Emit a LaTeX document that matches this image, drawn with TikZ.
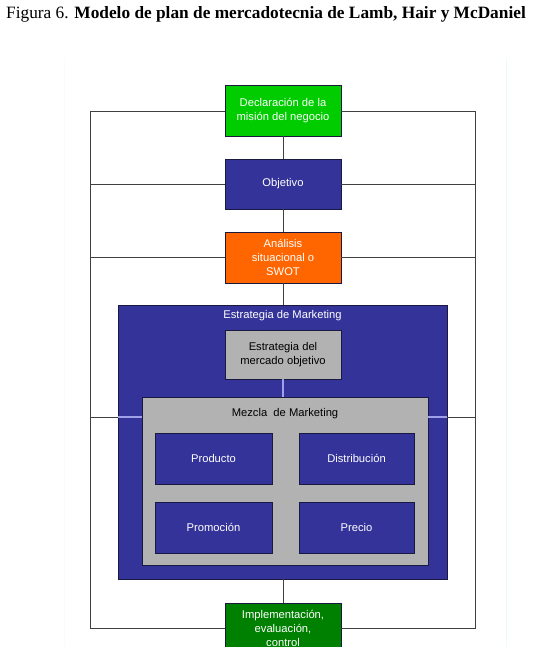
\documentclass[tikz,border=0pt]{standalone}
\usepackage{fontspec}
\setmainfont{Liberation Serif}
\newfontfamily\arialf{Liberation Sans}
\definecolor{cgreen}{HTML}{00CC00}
\definecolor{cblue}{HTML}{333399}
\definecolor{corange}{HTML}{FF6600}
\definecolor{cgray}{HTML}{B2B2B2}
\definecolor{cdgreen}{HTML}{008000}
\definecolor{cline}{HTML}{404040}
\definecolor{clight}{HTML}{A0A0E8}
\definecolor{cedge}{HTML}{1A1A40}
\definecolor{cfaint}{HTML}{EAFBFB}
\tikzset{
  box/.style={draw=cedge, line width=0.9pt, inner sep=0pt, outer sep=0pt,
    align=center, font=\arialf\fontsize{11.2}{14}\selectfont,
    minimum width=116pt, minimum height=50pt},
  wbox/.style={box, text=white},
  kbox/.style={box, text=black, fill=cgray},
  link/.style={draw=cline, line width=0.9pt},
  lightlink/.style={draw=clight, line width=1.2pt},
  lbl/.style={inner sep=0pt, font=\arialf\fontsize{11.2}{14}\selectfont}
}
\begin{document}
\begin{tikzpicture}[x=1pt,y=-1pt]
\useasboundingbox (0,0) rectangle (537,647);
\clip (0,0) rectangle (537,647);
\fill[white] (0,0) rectangle (537,647);
% faint page edges
\draw[cfaint, line width=1pt] (506,58) -- (506,647);
\draw[cfaint!50, line width=1pt] (64,58) -- (64,647);
% title
\node[anchor=base west, inner sep=0pt, font=\fontsize{17.3}{19}\selectfont] (title) at (6,19)
  {Figura 6. \textbf{Modelo de plan de mercadotecnia de Lamb, Hair y McDaniel}};
% frame coordinates
\coordinate (FL) at (90,0);
\coordinate (FR) at (475,0);
% nodes
\node[wbox, fill=cgreen, minimum height=51pt] (mis) at (283,111) {Declaración de la\\misión del negocio};
\node[wbox, fill=cblue] (obj) at (283,184) {Objetivo};
\node[wbox, fill=corange, minimum height=51pt] (ana) at (283,257.5) {Análisis\\situacional o\\SWOT};
\node[box, fill=cdgreen, text=white] (imp) at (283,628) {Implementación,\\evaluación,\\control};
% frame
\draw[link] (mis.west) -- (mis.west -| FL) -- (imp.west -| FL) -- (imp.west);
\draw[link] (mis.east) -- (mis.east -| FR) -- (imp.east -| FR) -- (imp.east);
\draw[link] (obj.west) -- (obj.west -| FL);
\draw[link] (obj.east) -- (obj.east -| FR);
\draw[link] (ana.west) -- (ana.west -| FL);
\draw[link] (ana.east) -- (ana.east -| FR);
\draw[link] (mis.south) -- (obj.north);
\draw[link] (obj.south) -- (ana.north);
% big strategy box
\node[box, fill=cblue, minimum width=329pt, minimum height=274pt] (big) at (282.5,442) {};
\node[lbl, text=white] (bigt) at (282.5,316) {Estrategia de Marketing};
\draw[link] (ana.south) -- (ana.south |- big.north);
\draw[link] (imp.north) -- (imp.north |- big.south);
\node[kbox, minimum height=49pt] (mer) at (283,354.5) {Estrategia del\\mercado objetivo};
\node[kbox, minimum width=286pt, minimum height=168pt] (mez) at (285,481) {};
\node[lbl] (mezt) at (285,414) {Mezcla\ \ de Marketing};
\draw[lightlink] (mer.south) -- (mer.south |- mez.north);
% side connector at y=417
\coordinate (ML) at (mez.west |- 0,417);
\coordinate (MR) at (mez.east |- 0,417);
\coordinate (BL) at (big.west |- 0,417);
\coordinate (BR) at (big.east |- 0,417);
\draw[link] (BL) -- (BL -| FL);
\draw[link] (BR) -- (BR -| FR);
\draw[lightlink] (BL) -- (ML);
\draw[lightlink] (BR) -- (MR);
% mix elements
\node[wbox, fill=cblue, minimum width=117pt, minimum height=51pt] (pro) at (213.5,458.5) {Producto};
\node[wbox, fill=cblue, minimum width=115pt, minimum height=51pt] (dis) at (356.5,458.5) {Distribución};
\node[wbox, fill=cblue, minimum width=117pt, minimum height=51pt] (prm) at (213.5,527.5) {Promoción};
\node[wbox, fill=cblue, minimum width=115pt, minimum height=51pt] (pre) at (356.5,527.5) {Precio};
\end{tikzpicture}
\end{document}
